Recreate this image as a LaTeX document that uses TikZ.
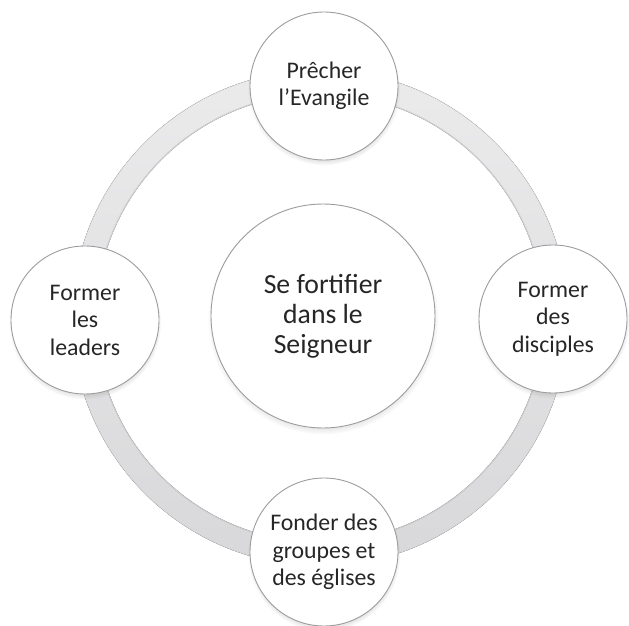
\documentclass[tikz,border=0pt]{standalone}
\usepackage{fontspec}
\setmainfont{Carlito}
\usetikzlibrary{shadows}
\definecolor{ringA}{HTML}{EBEBEC}
\definecolor{ringB}{HTML}{D8D8DA}
\definecolor{ringEdge}{HTML}{C4C4C6}
\definecolor{circEdge}{HTML}{9C9C9C}
\definecolor{txt}{HTML}{262626}
\begin{document}
\begin{tikzpicture}[x=1pt,y=-1pt,
  bubble/.style={circle,draw=circEdge,line width=0.9pt,fill=white,
    circular drop shadow={shadow xshift=0pt,shadow yshift=-3pt,shadow scale=1.03,opacity=0.45},
    text=txt,align=center,inner sep=0pt},
  small/.style={bubble,minimum size=148pt,font=\fontsize{23.8}{27.5}\selectfont},
  big/.style={bubble,minimum size=224pt,font=\fontsize{27.7}{30}\selectfont}]
\useasboundingbox (0,0) rectangle (629,626);
\coordinate (C) at (320,318);
% ring
\fill[even odd rule,top color=ringA,bottom color=ringB] (C) circle (248) (C) circle (224);
\draw[ringEdge,line width=1.2pt,opacity=0.6] (C) circle (224.5);
\draw[ringEdge,line width=0.6pt,opacity=0.4] (C) circle (247.8);
% nodes
\node[big] (center) at (323,316) {Se fortifier\\dans le\\Seigneur};
\node[small] (top) at (324,86) {Prêcher\\l’Evangile};
\node[small] (left) at (85,320) {Former\\les\\leaders};
\node[small] (right) at (553,319) {Former\\des\\disciples};
\node[small] (bottom) at (324,552) {Fonder des\\groupes et\\des églises};
\end{tikzpicture}
\end{document}
